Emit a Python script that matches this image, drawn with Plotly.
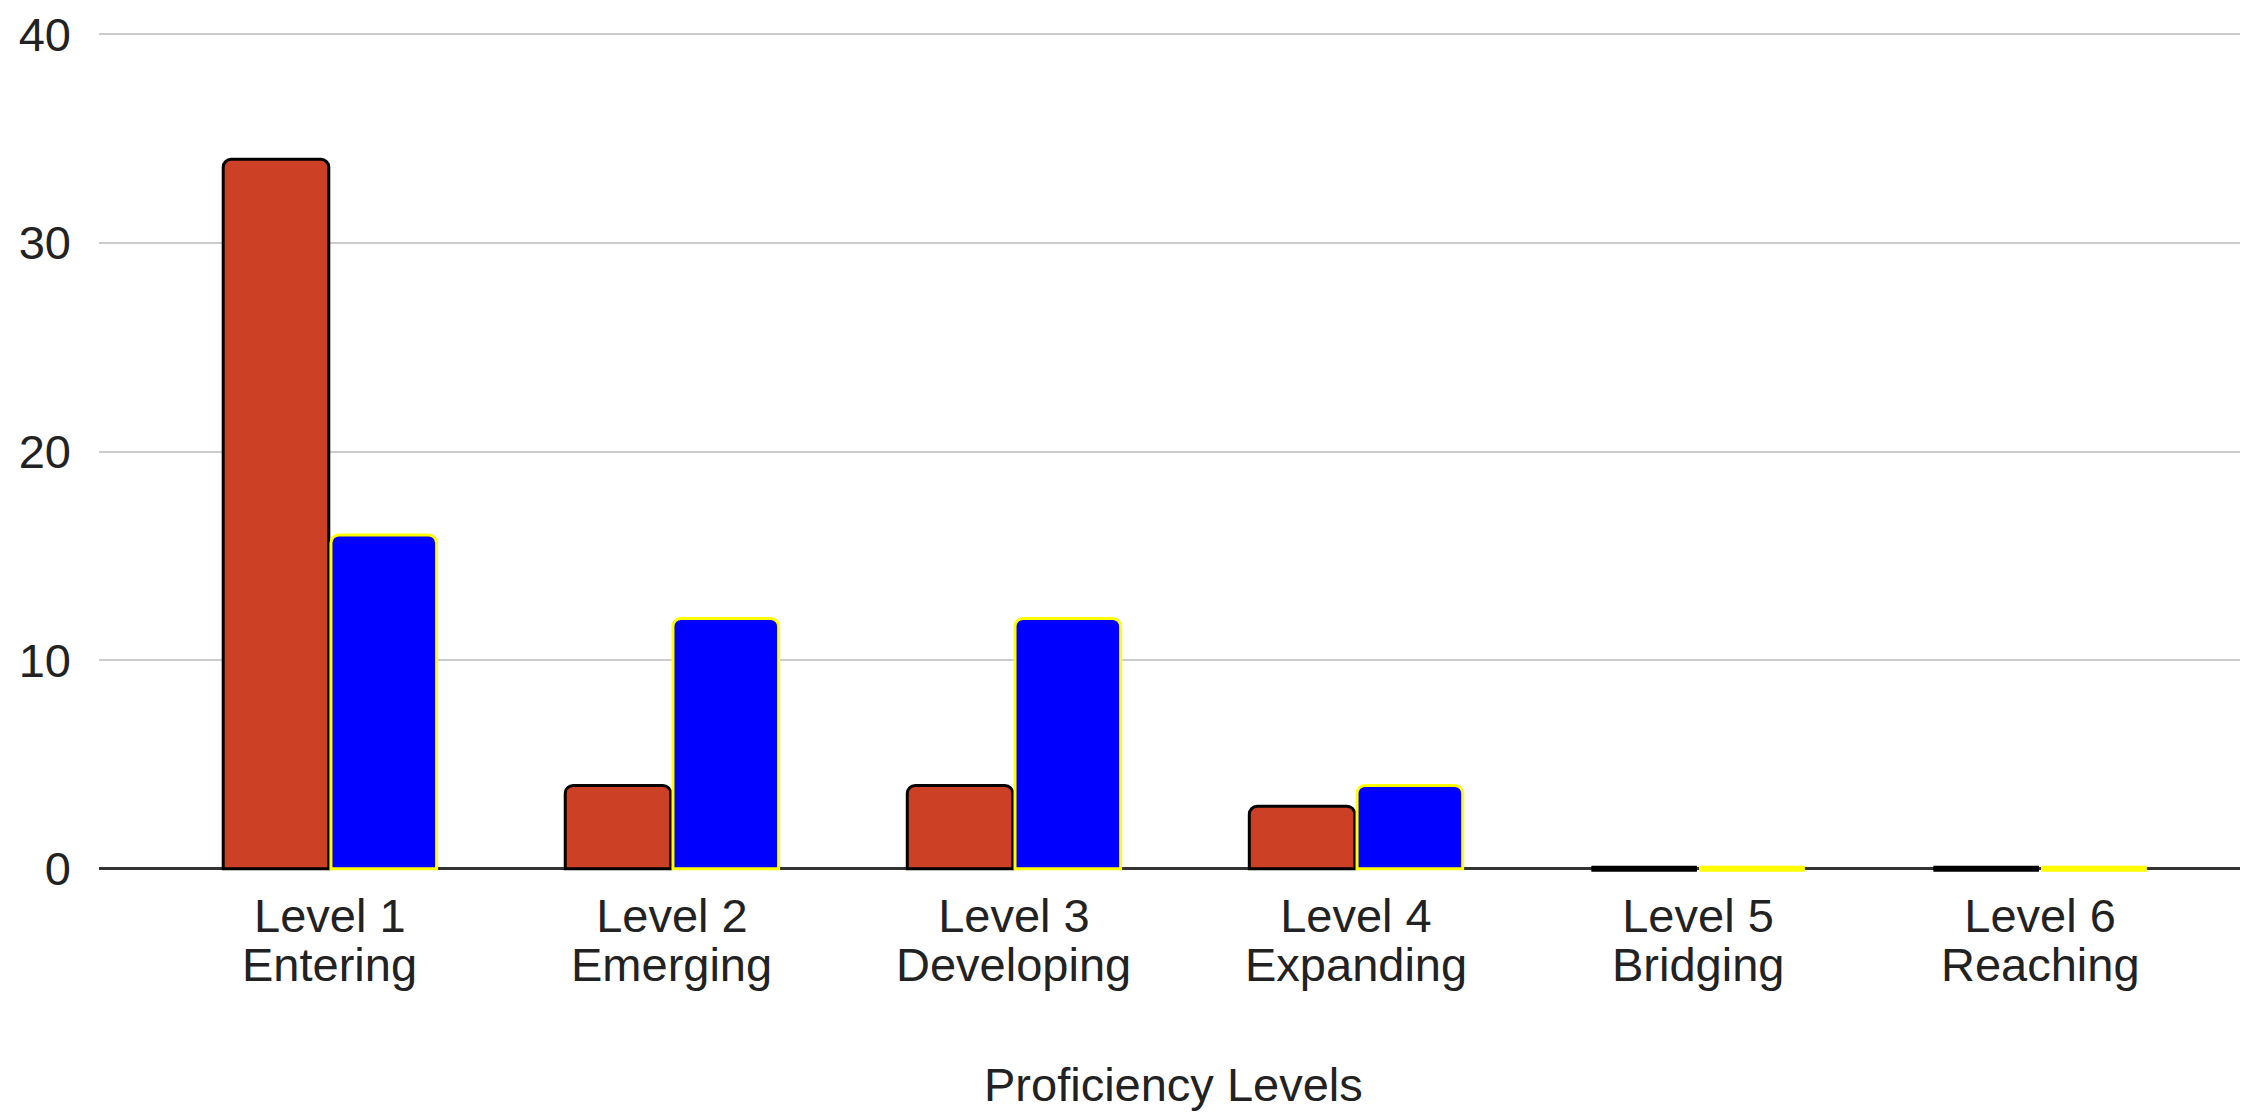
import plotly.graph_objects as go

level_names = ["Level 1", "Level 2", "Level 3", "Level 4", "Level 5", "Level 6"]
level_desc = ["Entering", "Emerging", "Developing", "Expanding", "Bridging", "Reaching"]
series_a = [34, 4, 4, 3, 0, 0]
series_b = [16, 12, 12, 4, 0, 0]
y_ticks = [0, 10, 20, 30, 40]
x_title = "Proficiency Levels"

FONT = "Liberation Sans, Arial, sans-serif"
FS = 47
TXT = "#222222"
RED = "#cc4125"
BLUE = "#0000ff"
BAR_GAP = 0.37
GROUP_GAP = 0.02

xs = list(range(len(level_names)))
fig = go.Figure()
fig.add_trace(go.Bar(x=xs, y=series_a, marker=dict(color=RED, line=dict(color="#000000", width=3), cornerradius=8),
                     name="A"))
fig.add_trace(go.Bar(x=xs, y=series_b, marker=dict(color=BLUE, line=dict(color="#ffff00", width=3), cornerradius=8),
                     name="B"))

# zero-height bars appear as thin outlines in the original
slot = (1 - BAR_GAP) / 2
bw = slot * (1 - GROUP_GAP)
for k, (vals, col) in enumerate([(series_a, "#000000"), (series_b, "#ffff00")]):
    off = (k - 0.5) * slot
    for i, v in enumerate(vals):
        if v == 0:
            fig.add_trace(go.Scatter(x=[i + off - bw / 2, i + off + bw / 2], y=[v, v], mode="lines",
                                     line=dict(color=col, width=6), hoverinfo="skip"))

# second line of each category label
for i, d in enumerate(level_desc):
    fig.add_annotation(x=i, y=0, xref="x", yref="y", text=d, showarrow=False,
                       yanchor="middle", yshift=-96, font=dict(family=FONT, size=FS, color=TXT))
# axis title
fig.add_annotation(x=0.5, y=0, xref="paper", yref="y", text=x_title, showarrow=False,
                   yanchor="middle", yshift=-216, font=dict(family=FONT, size=FS, color=TXT))

fig.update_layout(
    width=2240, height=1104,
    margin=dict(l=91, r=0, t=21, b=240),
    paper_bgcolor="white", plot_bgcolor="white",
    barmode="group", bargap=BAR_GAP, bargroupgap=GROUP_GAP,
    showlegend=False,
    font=dict(family=FONT, size=FS, color=TXT),
)
fig.update_xaxes(
    tickmode="array", tickvals=xs, ticktext=level_names,
    range=[-0.675, 5.608], showgrid=False, zeroline=False,
    showline=False, ticks="", ticklabelstandoff=12,
    tickfont=dict(size=FS, color=TXT),
)
fig.update_yaxes(
    range=[-0.15, 40.15], tickmode="array", tickvals=y_ticks, ticktext=[str(v) for v in y_ticks],
    showgrid=True, gridcolor="#cccccc", gridwidth=2,
    zeroline=True, zerolinecolor="#333333", zerolinewidth=3,
    ticks="", ticklabelstandoff=27, ticklabeloverflow="allow",
    tickfont=dict(size=FS, color=TXT),
)

fig.write_html("out.html")
